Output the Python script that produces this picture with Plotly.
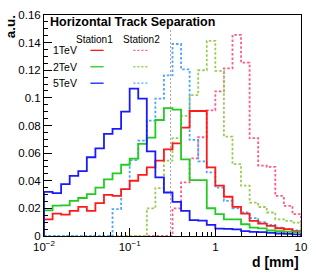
import numpy as np
import plotly.graph_objects as go

# log-spaced bin edges: 10 bins per decade from 1e-2 to 1e1
n_bins = 30
bin_edges = list(10 ** np.linspace(-2, 1, n_bins + 1))

st1_1tev = [0.0121, 0.0162, 0.0155, 0.0182, 0.0211, 0.0182, 0.0238, 0.0298, 0.0290, 0.0340,
            0.0400, 0.0443, 0.0497, 0.0545, 0.0627, 0.0671, 0.0785, 0.0905, 0.0905, 0.0497,
            0.0364, 0.0284, 0.0211, 0.0162, 0.0109, 0.0090, 0.0073, 0.0056, 0.0049, 0.0036]
st1_2tev = [0.0185, 0.0220, 0.0222, 0.0255, 0.0275, 0.0303, 0.0350, 0.0410, 0.0453, 0.0516,
            0.0560, 0.0667, 0.0712, 0.0840, 0.0926, 0.0915, 0.0555, 0.0405, 0.0405, 0.0201,
            0.0158, 0.0121, 0.0121, 0.0085, 0.0060, 0.0055, 0.0040, 0.0035, 0.0030, 0.0028]
st1_5tev = [0.0320, 0.0310, 0.0376, 0.0436, 0.0470, 0.0570, 0.0635, 0.0740, 0.0775, 0.0900,
            0.1067, 0.0994, 0.0613, 0.0424, 0.0315, 0.0247, 0.0182, 0.0115, 0.0112, 0.0080,
            0.0054, 0.0052, 0.0048, 0.0035, 0.0030, 0.0028, 0.0022, 0.0018, 0.0015, 0.0012]
st2_1tev = [0, 0, 0, 0, 0, 0, 0, 0, 0, 0,
            0, 0, 0, 0, 0, 0.0200, 0.0388, 0.0562, 0.0715, 0.0910,
            0.1047, 0.1214, 0.1456, 0.1255, 0.0708, 0.0510, 0.0500, 0.0290, 0.0218, 0.0158]
st2_2tev = [0, 0, 0, 0, 0, 0, 0, 0, 0, 0,
            0, 0, 0.0200, 0.0347, 0.0545, 0.0708, 0.0870, 0.1020, 0.1200, 0.1413,
            0.1195, 0.0720, 0.0520, 0.0364, 0.0242, 0.0210, 0.0170, 0.0121, 0.0110, 0.0097]
st2_5tev = [0, 0, 0, 0, 0, 0, 0, 0, 0.0194, 0.0340,
            0.0550, 0.0690, 0.0836, 0.0994, 0.1163, 0.1390, 0.1207, 0.0696, 0.0540, 0.0460,
            0.0350, 0.0255, 0.0200, 0.0170, 0.0130, 0.0100, 0.0080, 0.0060, 0.0050, 0.0040]

energies = ["1TeV", "2TeV", "5TeV"]
cut_value = 0.3
cut_height = 0.15

y_tickvals = [0, 0.02, 0.04, 0.06, 0.08, 0.1, 0.12, 0.14, 0.16]
y_ticktext = ["0", "0.02", "0.04", "0.06", "0.08", "0.1", "0.12", "0.14", "0.16"]
x_tickvals = [0.01, 0.1, 1, 10]
x_ticktext = ["10<sup>\u22122</sup>", "10<sup>\u22121</sup>", "1", "10"]

# styling
W, H = 316, 275
L, R, T, B = 44, 307, 14, 236
FONT = "Liberation Sans, Arial, Helvetica, sans-serif"
solid_colors = ["#ff1a1a", "#22cc22", "#1a1aff"]
dot_colors = ["#ff5c8a", "#99cc55", "#4da6ff"]


def step_xy(vals):
    xs = [bin_edges[0]] + bin_edges[:-1] + [bin_edges[-1], bin_edges[-1]]
    ys = [0] + list(vals) + [vals[-1], 0]
    return xs, ys


fig = go.Figure()

fig.add_trace(go.Scatter(x=[cut_value, cut_value], y=[0, cut_height], mode="lines",
                         line=dict(color="#a8a8a8", width=1, dash="2px,2px"),
                         showlegend=False, hoverinfo="skip"))

for vals, col in zip([st2_1tev, st2_2tev, st2_5tev], dot_colors):
    xs, ys = step_xy(vals)
    fig.add_trace(go.Scatter(x=xs, y=ys, mode="lines", line_shape="hv",
                             line=dict(color=col, width=1.8, dash="2.5px,2px"),
                             showlegend=False))
for vals, col in zip([st1_1tev, st1_2tev, st1_5tev], solid_colors):
    xs, ys = step_xy(vals)
    fig.add_trace(go.Scatter(x=xs, y=ys, mode="lines", line_shape="hv",
                             line=dict(color=col, width=1.8),
                             showlegend=False))


def px(x):
    return (x - L) / (R - L)


def py(y):
    return (B - y) / (B - T)


annotations = []
shapes = []

annotations.append(dict(text="<b>Horizontal Track Separation</b>", x=px(48), y=py(21),
                        xref="paper", yref="paper", xanchor="left", yanchor="middle",
                        showarrow=False, font=dict(family=FONT, size=12.5, color="black")))
annotations.append(dict(text="Station1", x=px(96), y=py(38.5), xref="paper", yref="paper",
                        xanchor="center", yanchor="middle", showarrow=False,
                        font=dict(family=FONT, size=10, color="black")))
annotations.append(dict(text="Station2", x=px(143.5), y=py(38.5), xref="paper", yref="paper",
                        xanchor="center", yanchor="middle", showarrow=False,
                        font=dict(family=FONT, size=10, color="black")))
for i, (lab, yy) in enumerate(zip(energies, [49.5, 66, 82.5])):
    annotations.append(dict(text=lab, x=px(51), y=py(yy), xref="paper", yref="paper",
                            xanchor="left", yanchor="middle", showarrow=False,
                            font=dict(family=FONT, size=10.5, color="black")))
    shapes.append(dict(type="line", xref="paper", yref="paper", x0=px(91.5), x1=px(105),
                       y0=py(yy), y1=py(yy), line=dict(color=solid_colors[i], width=1.3)))
    shapes.append(dict(type="line", xref="paper", yref="paper", x0=px(135.5), x1=px(151.5),
                       y0=py(yy), y1=py(yy),
                       line=dict(color=dot_colors[i], width=1.3, dash="2px,2px")))

annotations.append(dict(text="<b>a.u.</b>", x=px(10), y=py(12), xref="paper", yref="paper",
                        xanchor="center", yanchor="top", textangle=-90, showarrow=False,
                        font=dict(family=FONT, size=13.5, color="black")))
annotations.append(dict(text="<b>d [mm]</b>", x=1.0, y=py(262), xref="paper", yref="paper",
                        xanchor="right", yanchor="middle", showarrow=False,
                        font=dict(family=FONT, size=14, color="black")))

fig.update_layout(
    width=W, height=H,
    margin=dict(l=L, r=W - R, t=T, b=H - B, pad=0),
    paper_bgcolor="white", plot_bgcolor="white",
    annotations=annotations, shapes=shapes,
    font=dict(family=FONT, color="black"),
)
fig.update_xaxes(type="log", range=[-2, 1], showgrid=False, zeroline=False,
                 tickvals=x_tickvals, ticktext=x_ticktext,
                 ticks="inside", ticklen=8, tickwidth=1, tickcolor="black",
                 minor=dict(ticks="inside", ticklen=4, tickcolor="black",
                            tickvals=[m * 10 ** e for e in (-2, -1, 0) for m in range(2, 10)]),
                 showline=True, linecolor="black", linewidth=1, mirror=True,
                 tickfont=dict(family=FONT, size=11.5, color="black"))
fig.update_yaxes(range=[0, 0.16], showgrid=False, zeroline=False,
                 tickvals=y_tickvals, ticktext=y_ticktext,
                 ticks="inside", ticklen=8, tickwidth=1, tickcolor="black",
                 minor=dict(ticks="inside", ticklen=4, tickcolor="black", dtick=0.005),
                 showline=True, linecolor="black", linewidth=1, mirror=True,
                 tickfont=dict(family=FONT, size=11.5, color="black"))

fig.write_html("out.html", config={"displayModeBar": False},
               post_script="document.body.style.margin='0';document.body.style.overflow='hidden';")
